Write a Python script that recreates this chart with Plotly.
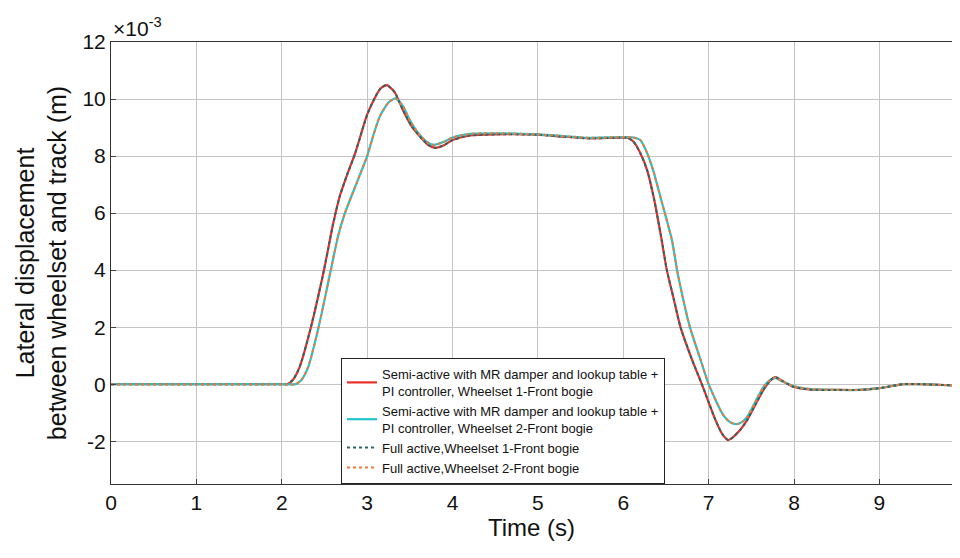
import plotly.graph_objects as go

# Time (s)
t1 = [0, 1.0, 2.0, 2.06, 2.13, 2.21, 2.34, 2.49, 2.6, 2.68, 2.76, 2.86, 3.0, 3.1, 3.16, 3.23, 3.32, 3.42, 3.52, 3.62,
      3.72, 3.80, 3.9, 4.0, 4.2, 4.5, 5.0, 5.3, 5.6, 5.9, 6.05, 6.12, 6.2, 6.28, 6.36, 6.45, 6.51, 6.59, 6.67,
      6.8, 6.92, 7.08, 7.16, 7.23, 7.3, 7.37, 7.45, 7.55, 7.64, 7.72, 7.78, 7.86, 7.99, 8.19, 8.5, 8.78, 9.0,
      9.28, 9.5, 9.68, 9.95]
# Semi-active, wheelset 1 (x1e-3 m)
semi_w1 = [0, 0, 0, 0.0, 0.15, 0.61, 1.98, 3.94, 5.6, 6.6, 7.3, 8.1, 9.45, 10.1, 10.38, 10.49, 10.25, 9.61, 9.05, 8.68,
           8.38, 8.29, 8.38, 8.56, 8.72, 8.76, 8.75, 8.68, 8.62, 8.64, 8.64, 8.5, 8.1, 7.5, 6.5, 5.05, 4.0, 3.0, 2.0,
           0.9, 0.0, -1.26, -1.75, -1.96, -1.82, -1.6, -1.26, -0.7, -0.21, 0.12, 0.25, 0.12, -0.09, -0.19, -0.2,
           -0.2, -0.14, 0.0, 0.0, -0.02, -0.05]
full_w1 = [0, 0, 0, 0.0, 0.15, 0.61, 1.98, 3.94, 5.6, 6.6, 7.3, 8.1, 9.45, 10.1, 10.38, 10.49, 10.25, 9.61, 9.05, 8.68,
           8.38, 8.29, 8.38, 8.56, 8.72, 8.76, 8.75, 8.68, 8.62, 8.64, 8.64, 8.5, 8.1, 7.5, 6.5, 5.05, 4.0, 3.0, 2.0,
           0.9, 0.0, -1.26, -1.75, -1.96, -1.82, -1.6, -1.26, -0.7, -0.21, 0.12, 0.25, 0.12, -0.09, -0.19, -0.2,
           -0.2, -0.14, 0.0, 0.0, -0.02, -0.05]

t2 = [0, 1.0, 2.0, 2.16, 2.23, 2.31, 2.43, 2.57, 2.66, 2.74, 2.87, 3.0, 3.08, 3.15, 3.25, 3.33, 3.42, 3.50, 3.6, 3.7,
      3.78, 3.9, 4.0, 4.2, 4.5, 5.0, 5.3, 5.6, 5.9, 6.1, 6.2, 6.28, 6.35, 6.45, 6.57, 6.63, 6.7, 6.78, 6.9,
      7.0, 7.16, 7.25, 7.33, 7.39, 7.45, 7.55, 7.64, 7.72, 7.78, 7.86, 8.0, 8.19, 8.5, 8.78, 9.0, 9.28, 9.5,
      9.68, 9.95]
semi_w2 = [0, 0, 0, 0.0, 0.15, 0.61, 1.98, 3.94, 5.2, 6.0, 7.0, 8.0, 8.8, 9.4, 9.88, 10.02, 9.75, 9.26, 8.8, 8.5,
           8.39, 8.5, 8.65, 8.78, 8.8, 8.76, 8.7, 8.64, 8.66, 8.66, 8.56, 8.1, 7.5, 6.4, 5.05, 4.0, 3.0, 2.0, 0.9,
           0.0, -1.03, -1.33, -1.40, -1.33, -1.15, -0.6, -0.1, 0.15, 0.22, 0.1, -0.07, -0.17, -0.2, -0.2, -0.14,
           0.0, 0.0, -0.02, -0.05]
full_w2 = [0, 0, 0, 0.0, 0.15, 0.61, 1.98, 3.94, 5.2, 6.0, 7.0, 8.0, 8.8, 9.4, 9.88, 10.02, 9.75, 9.26, 8.8, 8.5,
           8.39, 8.5, 8.65, 8.78, 8.8, 8.76, 8.7, 8.64, 8.66, 8.66, 8.56, 8.1, 7.5, 6.4, 5.05, 4.0, 3.0, 2.0, 0.9,
           0.0, -1.03, -1.33, -1.40, -1.33, -1.15, -0.6, -0.1, 0.15, 0.22, 0.1, -0.07, -0.17, -0.2, -0.2, -0.14,
           0.0, 0.0, -0.02, -0.05]

names = ["Semi-active with MR damper and lookup table +<br>PI controller, Wheelset 1-Front bogie",
         "Semi-active with MR damper and lookup table +<br>PI controller, Wheelset 2-Front bogie",
         "Full active,Wheelset 1-Front bogie",
         "Full active,Wheelset 2-Front bogie"]

x_ticks = [0, 1, 2, 3, 4, 5, 6, 7, 8, 9]
y_ticks = [-2, 0, 2, 4, 6, 8, 10, 12]
y_ticktext = ["-2", "0", "2", "4", "6", "8", "10", "12"]

FONT = "Liberation Sans, Arial, sans-serif"
SPL = dict(shape="spline", smoothing=0.6)

fig = go.Figure()
fig.add_trace(go.Scatter(x=t1, y=semi_w1, mode="lines", name=names[0],
                         line=dict(color="#e8302a", width=2.2, **SPL)))
fig.add_trace(go.Scatter(x=t2, y=semi_w2, mode="lines", name=names[1],
                         line=dict(color="#1fc4cc", width=2.2, **SPL)))
fig.add_trace(go.Scatter(x=t1, y=full_w1, mode="lines", name=names[2],
                         line=dict(color="#2d6464", width=2, dash="3px,3px", **SPL)))
fig.add_trace(go.Scatter(x=t2, y=full_w2, mode="lines", name=names[3],
                         line=dict(color="#ee7a3a", width=2, dash="3px,3px", **SPL)))

fig.update_layout(
    width=944, height=534,
    margin=dict(l=103, r=0, t=34, b=58),
    paper_bgcolor="white", plot_bgcolor="white",
    font=dict(family=FONT, color="#111"),
    legend=dict(x=(341 - 111) / 841, y=0, xanchor="left", yanchor="bottom",
                bgcolor="white", bordercolor="#222", borderwidth=1,
                font=dict(size=13, family=FONT), itemwidth=30, tracegroupgap=0),
    annotations=[dict(text="×10<sup>-3</sup>", x=0, y=1, xref="paper", yref="paper",
                      xanchor="left", yanchor="bottom", showarrow=False,
                      font=dict(size=21, family=FONT), yshift=0)],
)
fig.update_xaxes(range=[0, 9.85], tickvals=x_ticks, ticks="inside", ticklen=5, tickcolor="#444",
                 showgrid=True, gridcolor="#c4c4c4", gridwidth=1, zeroline=False,
                 showline=True, linecolor="#333", linewidth=1, mirror=True, automargin=False,
                 tickfont=dict(size=21), title=dict(text="Time (s)", font=dict(size=24), standoff=2))
fig.update_yaxes(range=[-3.5, 12], tickvals=y_ticks, ticktext=y_ticktext, ticks="inside", ticklen=5,
                 tickcolor="#444", showgrid=True, gridcolor="#c4c4c4", gridwidth=1, zeroline=False,
                 showline=True, linecolor="#333", linewidth=1, automargin=False,
                 tickfont=dict(size=21),
                 title=dict(text="Lateral displacement<br>between wheelset and track (m)",
                            font=dict(size=25), standoff=8))

fig.write_html("out.html")
